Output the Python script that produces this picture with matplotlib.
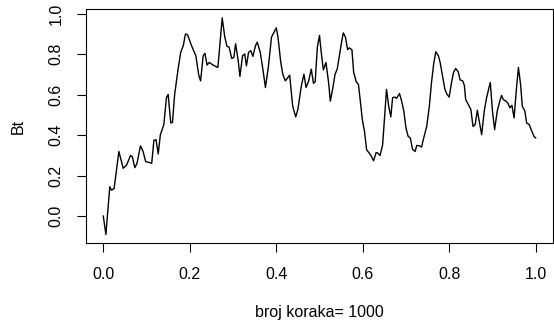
import matplotlib
matplotlib.use("Agg")
import matplotlib.pyplot as plt

plt.rcParams['font.family'] = ['Liberation Sans', 'DejaVu Sans']

# path of the random walk (t, Bt)
t = [0.000, 0.006, 0.015, 0.019, 0.025, 0.036, 0.046, 0.054, 0.063, 0.067,
     0.073, 0.078, 0.086, 0.092, 0.098, 0.108, 0.112, 0.117, 0.122, 0.127,
     0.132, 0.140, 0.146, 0.150, 0.156, 0.160, 0.165, 0.173, 0.179, 0.185,
     0.190, 0.195, 0.204, 0.214, 0.221, 0.225, 0.231, 0.235, 0.240, 0.245,
     0.254, 0.265, 0.275, 0.281, 0.286, 0.291, 0.297, 0.302, 0.306, 0.312,
     0.316, 0.322, 0.327, 0.331, 0.336, 0.341, 0.346, 0.352, 0.356, 0.363,
     0.369, 0.375, 0.382, 0.389, 0.395, 0.400, 0.404, 0.410, 0.415, 0.421,
     0.427, 0.431, 0.438, 0.445, 0.450, 0.458, 0.464, 0.469, 0.475, 0.481,
     0.486, 0.490, 0.495, 0.500, 0.504, 0.509, 0.515, 0.521, 0.525, 0.531,
     0.536, 0.541, 0.546, 0.551, 0.555, 0.560, 0.565, 0.569, 0.575, 0.579,
     0.585, 0.590, 0.594, 0.599, 0.604, 0.609, 0.614, 0.619, 0.625, 0.631,
     0.635, 0.640, 0.646, 0.650, 0.655, 0.660, 0.665, 0.669, 0.675, 0.678,
     0.685, 0.690, 0.695, 0.700, 0.705, 0.710, 0.715, 0.721, 0.725, 0.731,
     0.736, 0.741, 0.748, 0.754, 0.759, 0.764, 0.769, 0.775, 0.779, 0.785,
     0.790, 0.795, 0.800, 0.805, 0.810, 0.815, 0.821, 0.825, 0.831, 0.835,
     0.838, 0.844, 0.850, 0.855, 0.860, 0.865, 0.871, 0.875, 0.881, 0.886,
     0.891, 0.895, 0.900, 0.905, 0.911, 0.917, 0.921, 0.925, 0.931, 0.936,
     0.940, 0.945, 0.950, 0.955, 0.960, 0.965, 0.969, 0.975, 0.979, 0.985,
     0.991, 0.996, 1.000]
bt = [0.000, -0.091, 0.145, 0.128, 0.136, 0.319, 0.236, 0.253, 0.299, 0.294,
      0.239, 0.261, 0.347, 0.319, 0.269, 0.264, 0.261, 0.374, 0.377, 0.307,
      0.402, 0.452, 0.585, 0.601, 0.460, 0.463, 0.601, 0.726, 0.809, 0.842,
      0.900, 0.895, 0.842, 0.792, 0.693, 0.668, 0.792, 0.804, 0.746, 0.759,
      0.746, 0.734, 0.979, 0.884, 0.839, 0.834, 0.779, 0.784, 0.851, 0.767,
      0.690, 0.792, 0.801, 0.742, 0.809, 0.817, 0.789, 0.842, 0.859, 0.809,
      0.726, 0.635, 0.742, 0.884, 0.909, 0.930, 0.884, 0.767, 0.701, 0.668,
      0.685, 0.696, 0.543, 0.490, 0.527, 0.643, 0.701, 0.635, 0.668, 0.726,
      0.656, 0.663, 0.834, 0.892, 0.809, 0.722, 0.759, 0.660, 0.568, 0.635,
      0.701, 0.726, 0.792, 0.859, 0.905, 0.884, 0.822, 0.831, 0.822, 0.710,
      0.663, 0.651, 0.576, 0.477, 0.419, 0.327, 0.314, 0.299, 0.273, 0.314,
      0.311, 0.299, 0.352, 0.477, 0.626, 0.543, 0.490, 0.585, 0.588, 0.581,
      0.605, 0.568, 0.518, 0.435, 0.394, 0.386, 0.331, 0.319, 0.349, 0.347,
      0.341, 0.386, 0.443, 0.543, 0.660, 0.751, 0.812, 0.792, 0.759, 0.685,
      0.626, 0.601, 0.588, 0.656, 0.710, 0.729, 0.712, 0.673, 0.668, 0.646,
      0.576, 0.552, 0.527, 0.443, 0.452, 0.523, 0.452, 0.402, 0.518, 0.580,
      0.626, 0.660, 0.518, 0.427, 0.518, 0.568, 0.596, 0.576, 0.568, 0.557,
      0.535, 0.547, 0.485, 0.618, 0.734, 0.651, 0.543, 0.518, 0.460, 0.452,
      0.419, 0.394, 0.386]

xticks = [0.0, 0.2, 0.4, 0.6, 0.8, 1.0]
yticks = [0.0, 0.2, 0.4, 0.6, 0.8, 1.0]

fig = plt.figure(figsize=(5.54, 3.22), dpi=100)
ax = fig.add_axes([86 / 554, 1 - 243 / 322, 467 / 554, 234 / 322])

ax.plot(t, bt, color='black', linewidth=1.0)

ax.set_xlim(-0.04, 1.04)
ax.set_ylim(-0.133, 1.023)
ax.set_xticks(xticks)
ax.set_xticklabels(['%.1f' % v for v in xticks])
ax.set_yticks(yticks)
ax.set_yticklabels(['%.1f' % v for v in yticks], rotation=90, va='center')
ax.tick_params(direction='out', length=6.5, width=0.8, labelsize=11.5,
               colors='black')
ax.tick_params(axis='x', pad=10.5)
ax.tick_params(axis='y', pad=9.5)
for s in ax.spines.values():
    s.set_linewidth(0.8)

fig.text(319.5 / 554, 1 - 312 / 322, 'broj koraka= 1000', ha='center', va='center',
         fontsize=11.5)
fig.text(18 / 554, 1 - 126 / 322, 'Bt', ha='center', va='center', rotation=90,
         fontsize=11.5)

fig.savefig('out.png', dpi=100)
